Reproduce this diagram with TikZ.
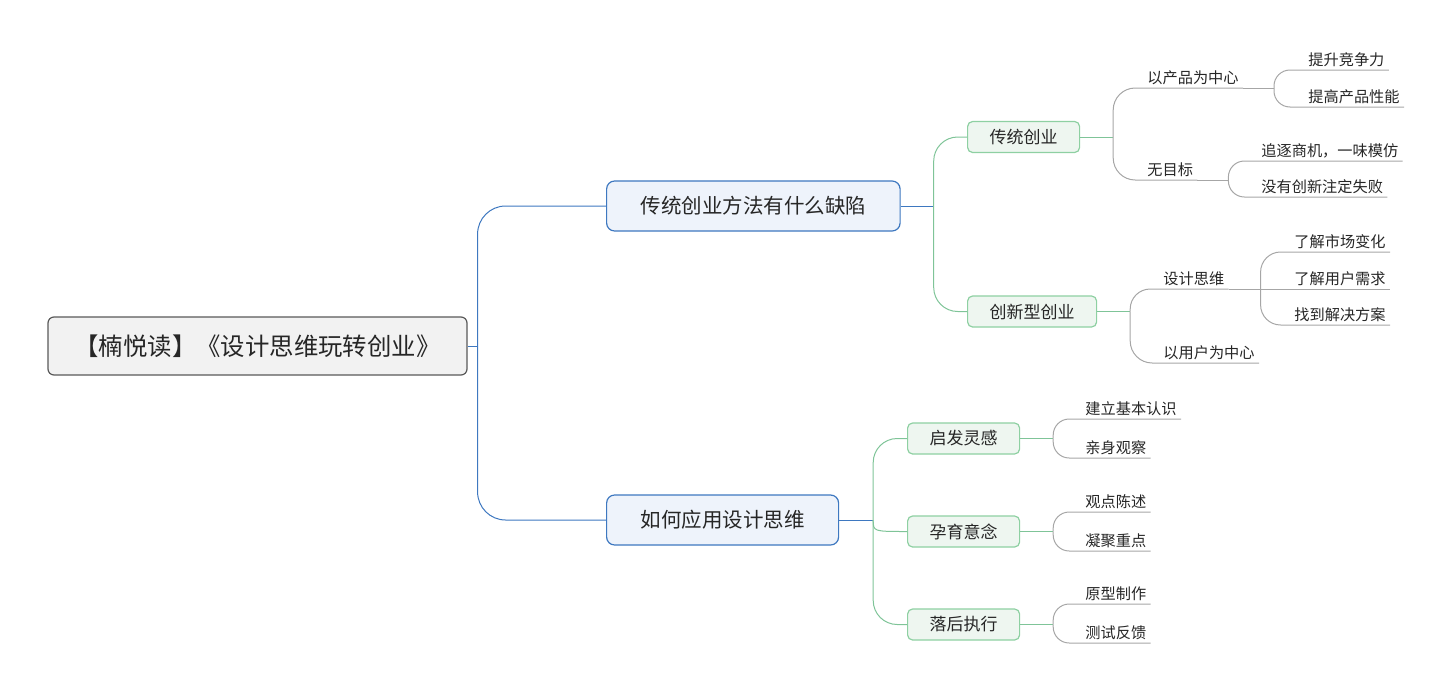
\documentclass[tikz,border=0pt]{standalone}
\usepackage{fontspec}
\setmainfont{Noto Sans CJK SC}
\definecolor{rootfill}{HTML}{F2F2F2}
\definecolor{rootdraw}{HTML}{595959}
\definecolor{bluefill}{HTML}{EEF3FB}
\definecolor{bluedraw}{HTML}{3E78C0}
\definecolor{greenfill}{HTML}{EEF6F0}
\definecolor{greendraw}{HTML}{8ED0A2}
\definecolor{greenln}{HTML}{7FC498}
\definecolor{grayln}{HTML}{A6A6A6}
\definecolor{txt}{HTML}{262626}
\begin{document}
\begin{tikzpicture}[x=0.5pt,y=-0.5pt,text=txt,
  rootbox/.style={fill=rootfill,draw=rootdraw,line width=0.6pt,rounded corners=3pt,minimum width=209.5pt,minimum height=29pt,font=\fontsize{12.2}{14}\selectfont},
  mainbox/.style={fill=bluefill,draw=bluedraw,line width=0.6pt,rounded corners=4pt,anchor=west,inner xsep=17pt,minimum height=25pt,font=\fontsize{10.25}{12}\selectfont},
  subbox/.style={fill=greenfill,draw=greendraw,line width=0.6pt,rounded corners=2.5pt,anchor=west,inner xsep=11pt,minimum height=15.5pt,font=\fontsize{8.5}{10}\selectfont},
  leaf/.style={anchor=south west,inner xsep=2pt,inner ysep=1.3pt,font=\fontsize{7.6}{9}\selectfont},
  blueln/.style={draw=bluedraw,line width=0.5pt},
  greenline/.style={draw=greenln,line width=0.5pt},
  grayline/.style={draw=grayln,line width=0.5pt}]
\useasboundingbox (0,0) rectangle (1450,691);
\node[rootbox](R) at (257.5,346){【楠悦读】《设计思维玩转创业》};
\node[mainbox](A) at (606,206){传统创业方法有什么缺陷};
\node[mainbox](B) at (606,520){如何应用设计思维};
\node[subbox](A1) at (967,137){传统创业};
\node[subbox](A2) at (967,311.5){创新型创业};
\node[subbox](B1) at (907,438.5){启发灵感};
\node[subbox](B2) at (907,531.5){孕育意念};
\node[subbox](B3) at (907,624.5){落后执行};
\node[leaf](A11) at (1143,88){以产品为中心};
\node[leaf](A12) at (1143,180){无目标};
\node[leaf](A111) at (1304,70){提升竞争力};
\node[leaf](A112) at (1304,107){提高产品性能};
\node[leaf](A121) at (1257,161){追逐商机，一味模仿};
\node[leaf](A122) at (1257,197){没有创新注定失败};
\node[leaf](A21) at (1159,289){设计思维};
\node[leaf](A22) at (1159,363){以用户为中心};
\node[leaf](A211) at (1290,252){了解市场变化};
\node[leaf](A212) at (1290,289){了解用户需求};
\node[leaf](A213) at (1290,325){找到解决方案};
\node[leaf](B11) at (1081,419){建立基本认识};
\node[leaf](B12) at (1081,458){亲身观察};
\node[leaf](B21) at (1081,512){观点陈述};
\node[leaf](B22) at (1081,551){凝聚重点};
\node[leaf](B31) at (1081,604){原型制作};
\node[leaf](B32) at (1081,643){测试反馈};
\draw[blueln] (R.east) -- ++(10,0) coordinate (J0);
\draw[blueln,rounded corners=14pt] (J0) |- (A.west);
\draw[blueln,rounded corners=14pt] (J0) |- (B.west);
\draw[blueln] (A.east) -- ++(33,0) coordinate (JA);
\draw[greenline,rounded corners=12pt] (JA) |- (A1.west);
\draw[greenline,rounded corners=12pt] (JA) |- (A2.west);
\draw[blueln] (B.east) -- ++(34,0) coordinate (JB);
\draw[greenline,rounded corners=12pt] (JB) |- (B1.west);
\draw[greenline] (JB) .. controls (JB |- B2.west) .. (B2.west);
\draw[greenline,rounded corners=12pt] (JB) |- (B3.west);
\draw[greenline] (A1.east) -- ++(33,0) coordinate (JA1);
\draw[grayline,rounded corners=11pt] (JA1) |- (A11.south east);
\draw[grayline,rounded corners=11pt] (JA1) |- (A12.south east);
\draw[greenline] (A2.east) -- ++(33,0) coordinate (JA2);
\draw[grayline,rounded corners=10pt] (JA2) |- (A21.south east);
\draw[grayline,rounded corners=11pt] (JA2) |- (A22.south east);
\draw[grayline] (A11.south east) -- ++(31,0) coordinate (JA11);
\draw[grayline,rounded corners=8pt] (JA11) |- (A111.south east);
\draw[grayline,rounded corners=8pt] (JA11) |- (A112.south east);
\draw[grayline] (A12.south east) -- ++(31,0) coordinate (JA12);
\draw[grayline,rounded corners=8pt] (JA12) |- (A121.south east);
\draw[grayline,rounded corners=8pt] (JA12) |- (A122.south east);
\draw[grayline] (A21.south east) -- ++(32,0) coordinate (JA21);
\draw[grayline,rounded corners=10pt] (JA21) |- (A211.south east);
\draw[grayline] (JA21) -- (A212.south east);
\draw[grayline,rounded corners=10pt] (JA21) |- (A213.south east);
\draw[greenline] (B1.east) -- ++(33,0) coordinate (JB1);
\draw[grayline,rounded corners=8pt] (JB1) |- (B11.south east);
\draw[grayline,rounded corners=8pt] (JB1) |- (B12.south east);
\draw[greenline] (B2.east) -- ++(33,0) coordinate (JB2);
\draw[grayline,rounded corners=8pt] (JB2) |- (B21.south east);
\draw[grayline,rounded corners=8pt] (JB2) |- (B22.south east);
\draw[greenline] (B3.east) -- ++(33,0) coordinate (JB3);
\draw[grayline,rounded corners=8pt] (JB3) |- (B31.south east);
\draw[grayline,rounded corners=8pt] (JB3) |- (B32.south east);
\end{tikzpicture}
\end{document}
